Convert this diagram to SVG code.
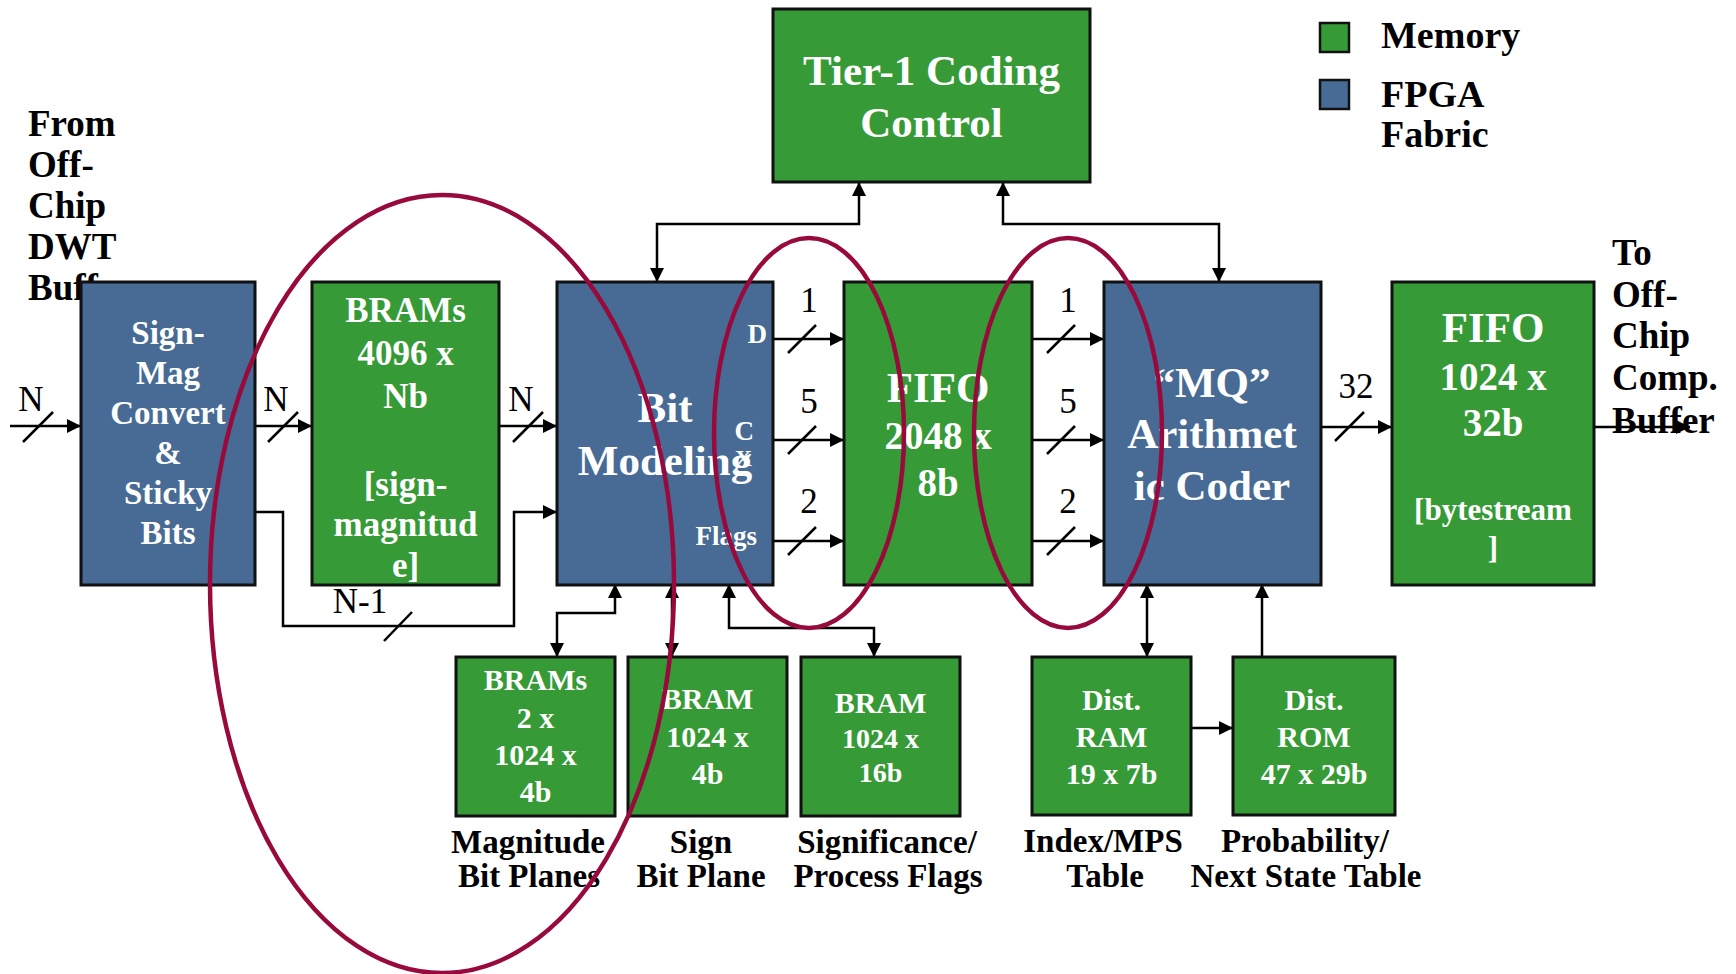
<svg xmlns="http://www.w3.org/2000/svg" width="1736" height="974" viewBox="0 0 1736 974">
  <style>
    .mem { fill: #369a36; stroke: #111; stroke-width: 3; }
    .fab { fill: #476b94; stroke: #111; stroke-width: 3; }
    .t { font-family: "Liberation Serif", "Times New Roman", serif; }
    .bw { font-weight: bold; fill: #fff; text-anchor: middle; }
    .bk { font-weight: bold; fill: #000; }
    .lab { font-weight: bold; fill: #000; text-anchor: middle; font-size: 33px; }
    .num { fill: #000; text-anchor: middle; font-size: 35px; }
    .wire { fill: none; stroke: #000; stroke-width: 2.5; }
    .slash { stroke: #000; stroke-width: 2.5; }
    .ring { fill: none; stroke: #990a3c; stroke-width: 4.5; }
  </style>
  <defs>
    <marker id="arr" markerUnits="userSpaceOnUse" markerWidth="15" markerHeight="15" refX="14" refY="7" orient="auto-start-reverse">
      <path d="M0,0 L14,7 L0,14 z" fill="#000"/>
    </marker>
  </defs>

  <!-- off-chip source / sink labels (drawn first so boxes sit over them) -->
  <g id="src-label" class="t bk" font-size="37">
    <text x="28" y="136">From</text>
    <text x="28" y="177">Off-</text>
    <text x="28" y="218">Chip</text>
    <text x="28" y="259">DWT</text>
    <text x="28" y="300">Buffer</text>
  </g>
  <g id="dst-label" class="t bk" font-size="37">
    <text x="1612" y="265">To</text>
    <text x="1612" y="307">Off-</text>
    <text x="1612" y="348">Chip</text>
    <text x="1612" y="390">Comp.</text>
    <text x="1612" y="433">Buffer</text>
  </g>

  <!-- legend -->
  <g id="legend" class="t bk" font-size="38">
    <rect x="1320" y="23" width="29" height="29" fill="#369a36" stroke="#111" stroke-width="2.5"/>
    <rect x="1320" y="80" width="29" height="29" fill="#476b94" stroke="#111" stroke-width="2.5"/>
    <text x="1381" y="48">Memory</text>
    <text x="1381" y="107">FPGA</text>
    <text x="1381" y="147">Fabric</text>
  </g>

  <!-- connectors -->
  <g id="connectors">
    <g class="wire">
      <path d="M10,426 H81" marker-end="url(#arr)"/>
      <path d="M255,426 H312" marker-end="url(#arr)"/>
      <path d="M499,426 H557" marker-end="url(#arr)"/>
      <path d="M255,512 H283 V626 H514 V512 H557" marker-end="url(#arr)"/>
      <path d="M773,339 H844" marker-end="url(#arr)"/>
      <path d="M773,440 H844" marker-end="url(#arr)"/>
      <path d="M773,541 H844" marker-end="url(#arr)"/>
      <path d="M1032,339 H1104" marker-end="url(#arr)"/>
      <path d="M1032,440 H1104" marker-end="url(#arr)"/>
      <path d="M1032,541 H1104" marker-end="url(#arr)"/>
      <path d="M1321,427 H1392" marker-end="url(#arr)"/>
      <path d="M1594,427 H1690" marker-end="url(#arr)"/>
      <path d="M859,182 V224 H657 V282" marker-start="url(#arr)" marker-end="url(#arr)"/>
      <path d="M1003,182 V224 H1219 V282" marker-start="url(#arr)" marker-end="url(#arr)"/>
      <path d="M615,584 V613 H557 V657" marker-start="url(#arr)" marker-end="url(#arr)"/>
      <path d="M672,584 V657" marker-start="url(#arr)" marker-end="url(#arr)"/>
      <path d="M729,584 V628 H874 V657" marker-start="url(#arr)" marker-end="url(#arr)"/>
      <path d="M1147,584 V657" marker-start="url(#arr)" marker-end="url(#arr)"/>
      <path d="M1262,657 V584" marker-end="url(#arr)"/>
      <path d="M1191,728 H1233" marker-end="url(#arr)"/>
    </g>
    <!-- bus-width ticks -->
    <g class="slash">
      <line x1="23" y1="442" x2="53" y2="412"/>
      <line x1="268" y1="442" x2="298" y2="412"/>
      <line x1="513" y1="442" x2="543" y2="412"/>
      <line x1="384" y1="641" x2="412" y2="612"/>
      <line x1="788" y1="353" x2="816" y2="325"/>
      <line x1="788" y1="454" x2="816" y2="426"/>
      <line x1="788" y1="555" x2="816" y2="527"/>
      <line x1="1047" y1="353" x2="1075" y2="325"/>
      <line x1="1047" y1="454" x2="1075" y2="426"/>
      <line x1="1047" y1="555" x2="1075" y2="527"/>
      <line x1="1335" y1="441" x2="1364" y2="412"/>
    </g>
    <g class="t num">
      <text x="31" y="411">N</text>
      <text x="276" y="411">N</text>
      <text x="521" y="411">N</text>
      <text x="360" y="613">N-1</text>
      <text x="809" y="312">1</text>
      <text x="809" y="413">5</text>
      <text x="809" y="513">2</text>
      <text x="1068" y="312">1</text>
      <text x="1068" y="413">5</text>
      <text x="1068" y="513">2</text>
      <text x="1356" y="398">32</text>
    </g>
  </g>

  <!-- main pipeline -->
  <g id="tier1-control">
    <rect class="mem" x="773" y="9" width="317" height="173"/>
    <text class="t bw" font-size="43" x="931.5" y="85">Tier-1 Coding</text>
    <text class="t bw" font-size="43" x="931.5" y="137">Control</text>
  </g>

  <g id="sign-mag">
    <rect class="fab" x="81" y="282" width="174" height="303"/>
    <g class="t bw" font-size="33">
      <text x="168" y="344">Sign-</text>
      <text x="168" y="384">Mag</text>
      <text x="168" y="424">Convert</text>
      <text x="168" y="464">&amp;</text>
      <text x="168" y="504">Sticky</text>
      <text x="168" y="544">Bits</text>
    </g>
  </g>

  <g id="coef-bram">
    <rect class="mem" x="312" y="282" width="187" height="303"/>
    <g class="t bw" font-size="35">
      <text x="405.5" y="322">BRAMs</text>
      <text x="405.5" y="365">4096 x</text>
      <text x="405.5" y="408">Nb</text>
      <text x="405.5" y="496">[sign-</text>
      <text x="405.5" y="536">magnitud</text>
      <text x="405.5" y="577">e]</text>
    </g>
  </g>

  <g id="bit-modeling">
    <rect class="fab" x="557" y="282" width="216" height="303"/>
    <text class="t bw" font-size="43" x="665" y="422">Bit</text>
    <text class="t bw" font-size="43" x="665" y="475">Modeling</text>
    <g class="t bw" font-size="27" text-anchor="end" style="text-anchor:end">
      <text x="767" y="343">D</text>
      <text x="754" y="440">C</text>
      <text x="752" y="466" font-size="24">X</text>
      <text x="757" y="545">Flags</text>
    </g>
  </g>

  <g id="cx-fifo">
    <rect class="mem" x="844" y="282" width="188" height="303"/>
    <text class="t bw" font-size="43" x="938" y="402">FIFO</text>
    <text class="t bw" font-size="39" x="938" y="449">2048 x</text>
    <text class="t bw" font-size="39" x="938" y="496">8b</text>
  </g>

  <g id="mq-coder">
    <rect class="fab" x="1104" y="282" width="217" height="303"/>
    <text class="t bw" font-size="43" x="1212" y="397">“MQ”</text>
    <text class="t bw" font-size="43" x="1212" y="448">Arithmet</text>
    <text class="t bw" font-size="43" x="1212" y="500">ic Coder</text>
  </g>

  <g id="out-fifo">
    <rect class="mem" x="1392" y="282" width="202" height="303"/>
    <text class="t bw" font-size="43" x="1493" y="342">FIFO</text>
    <text class="t bw" font-size="39" x="1493" y="390">1024 x</text>
    <text class="t bw" font-size="39" x="1493" y="436">32b</text>
    <text class="t bw" font-size="31" x="1493" y="520">[bytestream</text>
    <text class="t bw" font-size="31" x="1493" y="558">]</text>
  </g>

  <!-- memories below the pipeline -->
  <g id="mag-planes">
    <rect class="mem" x="456" y="657" width="159" height="159"/>
    <g class="t bw" font-size="30">
      <text x="535.5" y="690">BRAMs</text>
      <text x="535.5" y="728">2 x</text>
      <text x="535.5" y="765">1024 x</text>
      <text x="535.5" y="802">4b</text>
    </g>
    <text class="t lab" x="528" y="853">Magnitude</text>
    <text class="t lab" x="529" y="887">Bit Planes</text>
  </g>

  <g id="sign-plane">
    <rect class="mem" x="628" y="657" width="159" height="159"/>
    <g class="t bw" font-size="30">
      <text x="707.5" y="709">BRAM</text>
      <text x="707.5" y="747">1024 x</text>
      <text x="707.5" y="784">4b</text>
    </g>
    <text class="t lab" x="701" y="853">Sign</text>
    <text class="t lab" x="701" y="887">Bit Plane</text>
  </g>

  <g id="flags-mem">
    <rect class="mem" x="801" y="657" width="159" height="159"/>
    <text class="t bw" font-size="30" x="880.5" y="713">BRAM</text>
    <text class="t bw" font-size="28" x="880.5" y="748">1024 x</text>
    <text class="t bw" font-size="28" x="880.5" y="782">16b</text>
    <text class="t lab" x="887" y="853">Significance/</text>
    <text class="t lab" x="888" y="887">Process Flags</text>
  </g>

  <g id="index-table">
    <rect class="mem" x="1032" y="657" width="159" height="158"/>
    <g class="t bw" font-size="30">
      <text x="1111.5" y="710">Dist.</text>
      <text x="1111.5" y="747">RAM</text>
      <text x="1111.5" y="784">19 x 7b</text>
    </g>
    <text class="t lab" x="1103" y="852">Index/MPS</text>
    <text class="t lab" x="1105" y="887">Table</text>
  </g>

  <g id="prob-table">
    <rect class="mem" x="1233" y="657" width="162" height="158"/>
    <g class="t bw" font-size="30">
      <text x="1314" y="710">Dist.</text>
      <text x="1314" y="747">ROM</text>
      <text x="1314" y="784">47 x 29b</text>
    </g>
    <text class="t lab" x="1305" y="852">Probability/</text>
    <text class="t lab" x="1306" y="887">Next State Table</text>
  </g>

  <!-- highlight rings -->
  <g id="highlights" class="ring">
    <ellipse cx="442" cy="584" rx="232" ry="389"/>
    <ellipse cx="809" cy="433" rx="95" ry="195"/>
    <ellipse cx="1068" cy="433" rx="94" ry="195"/>
  </g>
</svg>
